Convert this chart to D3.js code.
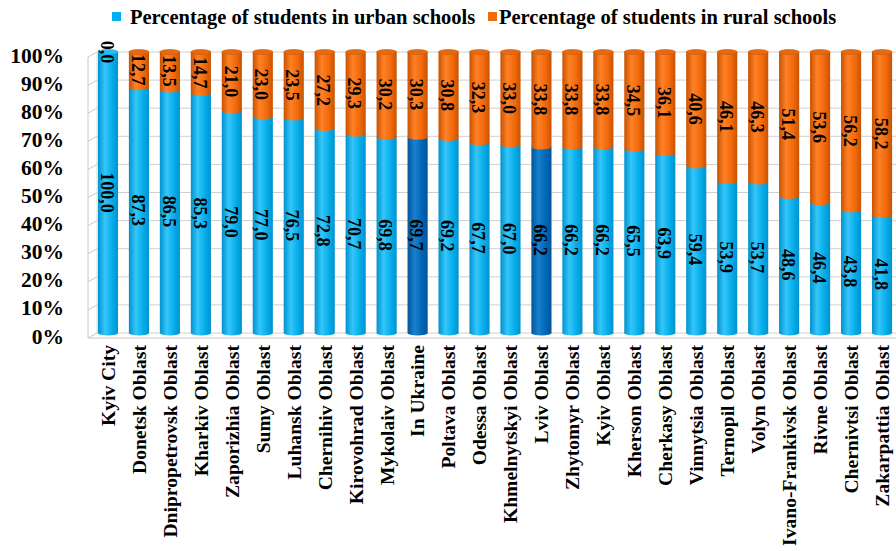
<!DOCTYPE html>
<html>
<head>
<meta charset="utf-8">
<script src="https://cdn.jsdelivr.net/npm/d3@7"></script>
<style>
  html, body { margin: 0; padding: 0; background: #fff; }
  svg { display: block; }
  text { font-family: "Liberation Serif", "Times New Roman", serif; font-weight: bold; fill: #000; }
</style>
</head>
<body>
<svg id="chart" width="896" height="551"></svg>
<script>
// Share of students in urban vs rural schools by region (%)
const categories = [
  "Kyiv City", "Donetsk Oblast", "Dnipropetrovsk Oblast", "Kharkiv Oblast",
  "Zaporizhia Oblast", "Sumy Oblast", "Luhansk Oblast", "Chernihiv Oblast",
  "Kirovohrad Oblast", "Mykolaiv Oblast", "In Ukraine", "Poltava Oblast",
  "Odessa Oblast", "Khmelnytskyi Oblast", "Lviv Oblast", "Zhytomyr Oblast",
  "Kyiv Oblast", "Kherson Oblast", "Cherkasy Oblast", "Vinnytsia Oblast",
  "Ternopil Oblast", "Volyn Oblast", "Ivano-Frankivsk Oblast", "Rivne Oblast",
  "Chernivtsi Oblast", "Zakarpattia Oblast"
];
const urban = [100.0, 87.3, 86.5, 85.3, 79.0, 77.0, 76.5, 72.8, 70.7, 69.8, 69.7, 69.2, 67.7,
               67.0, 66.2, 66.2, 66.2, 65.5, 63.9, 59.4, 53.9, 53.7, 48.6, 46.4, 43.8, 41.8];
const rural = [0.0, 12.7, 13.5, 14.7, 21.0, 23.0, 23.5, 27.2, 29.3, 30.2, 30.3, 30.8, 32.3,
               33.0, 33.8, 33.8, 33.8, 34.5, 36.1, 40.6, 46.1, 46.3, 51.4, 53.6, 56.2, 58.2];
const highlighted = ["In Ukraine", "Lviv Oblast"];
const seriesNames = ["Percentage of students in urban schools", "Percentage of students in rural schools"];
const yTicks = [0, 10, 20, 30, 40, 50, 60, 70, 80, 90, 100];

const svg = d3.select("#chart");
const fmt = v => d3.format(".1f")(v).replace(".", ",");

const x = d3.scaleBand().domain(categories).range([92.5, 897.5])
  .paddingInner(0.35).paddingOuter(0.175);
const y = d3.scaleLinear().domain([0, 100]).range([333, 52]);
const bw = x.bandwidth();
const capRy = 2.5;

// cylinder shading
const defs = svg.append("defs");
function cyl(id, edge, light, mid) {
  const g = defs.append("linearGradient").attr("id", id).attr("x1", 0).attr("x2", 1).attr("y1", 0).attr("y2", 0);
  g.append("stop").attr("offset", "0%").attr("stop-color", edge);
  g.append("stop").attr("offset", "35%").attr("stop-color", light);
  g.append("stop").attr("offset", "70%").attr("stop-color", mid);
  g.append("stop").attr("offset", "100%").attr("stop-color", edge);
}
cyl("gUrban", "#0092cf", "#35c6fa", "#06aeea");
cyl("gUrbanDark", "#00549a", "#1a80cf", "#0068b8");
cyl("gRural", "#c95200", "#ff8126", "#f26a0c");

// back wall grid with slanted left wall
const wallX = 88, backX = 97, slant = 5;
const grid = svg.append("g");
grid.selectAll("line.h").data(yTicks).join("line")
  .attr("x1", backX).attr("x2", 896)
  .attr("y1", d => y(d)).attr("y2", d => y(d))
  .attr("stroke", "#d0d0d0").attr("stroke-width", 1);
grid.selectAll("line.s").data(yTicks).join("line")
  .attr("x1", wallX).attr("x2", backX)
  .attr("y1", d => y(d) + slant).attr("y2", d => y(d))
  .attr("stroke", "#c8c8c8").attr("stroke-width", 1);
grid.append("line").attr("x1", wallX).attr("x2", wallX)
  .attr("y1", y(100) + slant).attr("y2", y(0) + slant).attr("stroke", "#c8c8c8");
grid.append("line").attr("x1", backX).attr("x2", backX)
  .attr("y1", y(100)).attr("y2", y(0)).attr("stroke", "#dcdcdc");
grid.append("line").attr("x1", wallX).attr("x2", 896)
  .attr("y1", y(0) + slant).attr("y2", y(0) + slant).attr("stroke", "#c8c8c8");

// y axis labels
svg.append("g").selectAll("text").data(yTicks).join("text")
  .attr("x", 64).attr("y", d => y(d) + 3)
  .attr("dy", "0.35em").attr("text-anchor", "end")
  .style("font-size", "21.5px")
  .text(d => d + "%");

// bars
const rows = categories.map((c, i) => ({ c, u: urban[i], r: rural[i] }));
const bars = svg.append("g").selectAll("g").data(rows).join("g");

// urban segment
bars.append("rect")
  .attr("x", d => x(d.c)).attr("width", bw)
  .attr("y", d => y(d.u)).attr("height", d => y(0) - y(d.u))
  .attr("fill", d => highlighted.includes(d.c) ? "url(#gUrbanDark)" : "url(#gUrban)");
bars.append("ellipse")
  .attr("cx", d => x(d.c) + bw / 2).attr("cy", y(0))
  .attr("rx", bw / 2).attr("ry", capRy)
  .attr("fill", d => highlighted.includes(d.c) ? "url(#gUrbanDark)" : "url(#gUrban)");

// rural segment
bars.filter(d => d.r > 0).append("rect")
  .attr("x", d => x(d.c)).attr("width", bw)
  .attr("y", d => y(d.u + d.r)).attr("height", d => y(d.u) - y(d.u + d.r))
  .attr("fill", "url(#gRural)");
bars.filter(d => d.r > 0).append("ellipse")
  .attr("cx", d => x(d.c) + bw / 2).attr("cy", d => y(d.u))
  .attr("rx", bw / 2).attr("ry", capRy)
  .attr("fill", "url(#gRural)");

// top cap
bars.append("ellipse")
  .attr("cx", d => x(d.c) + bw / 2).attr("cy", d => y(d.u + d.r))
  .attr("rx", bw / 2).attr("ry", capRy)
  .attr("fill", d => d.r > 0 ? "#e66a12" : "#2bbcf2")
  .attr("stroke", d => d.r > 0 ? "#c85a08" : "#1aa0d8").attr("stroke-width", 0.6);

// value labels, rotated along the bars
function valueLabel(sel, val, mid) {
  sel.append("text")
    .attr("transform", d => `translate(${x(d.c) + bw / 2 - 1},${y(mid(d))}) rotate(90)`)
    .attr("text-anchor", "middle").attr("dy", "0.35em")
    .style("font-size", "18px")
    .text(d => fmt(val(d)));
}
valueLabel(bars, d => d.u, d => d.u / 2);
valueLabel(bars, d => d.r, d => d.u + d.r / 2);

// category labels
svg.append("g").selectAll("text").data(categories).join("text")
  .attr("transform", d => `translate(${x(d) + bw / 2},345) rotate(-90)`)
  .attr("text-anchor", "end").attr("dy", "0.35em")
  .style("font-size", "19.6px")
  .text(d => d);

// legend
const legend = svg.append("g");
const legendItems = [
  { name: seriesNames[0], color: "#00b0f0", sx: 112, tx: 130 },
  { name: seriesNames[1], color: "#f26a0c", sx: 488, tx: 499 }
];
legendItems.forEach(it => {
  legend.append("rect").attr("x", it.sx).attr("y", 12).attr("width", 9).attr("height", 9).attr("fill", it.color);
  legend.append("text").attr("x", it.tx).attr("y", 17).attr("dy", "0.35em")
    .style("font-size", "20.5px").text(it.name);
});
</script>
</body>
</html>
